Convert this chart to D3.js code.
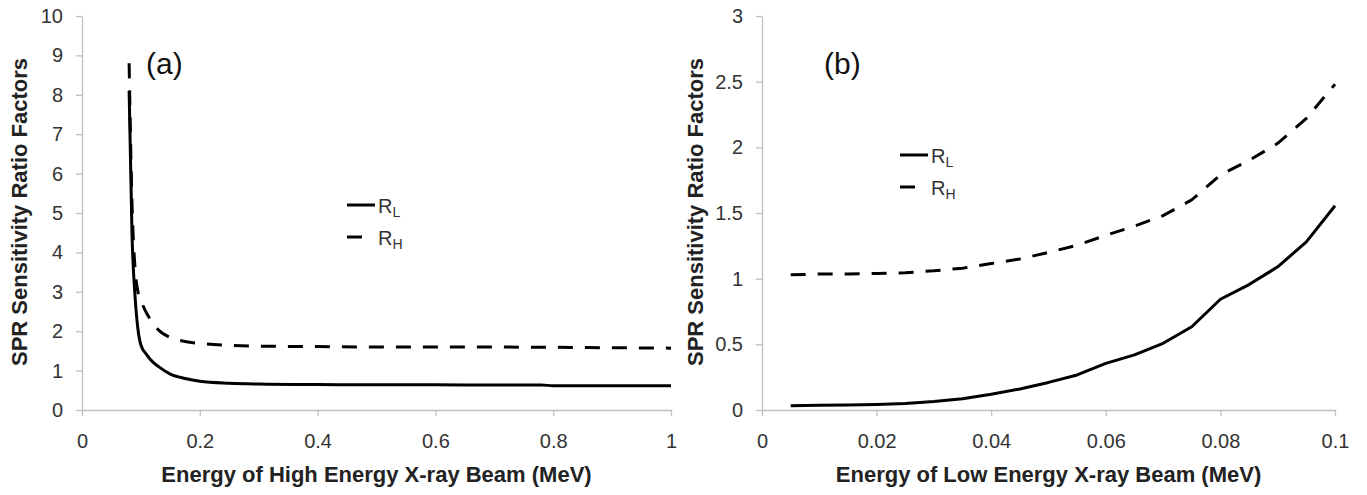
<!DOCTYPE html>
<html>
<head>
<meta charset="utf-8">
<script src="https://cdn.jsdelivr.net/npm/d3@7/dist/d3.min.js"></script>
<style>
  body { margin: 0; background: #fff; }
  svg { display: block; font-family: Arial, "Liberation Sans", sans-serif; }
  .axis path, .axis line { stroke: #bfbfbf; stroke-width: 1.3px; }
  .axis text { font-size: 20px; fill: #333; }
  .title { font-size: 22px; font-weight: bold; fill: #222; }
</style>
</head>
<body>
<div id="chart"></div>
<script>
// panel (a): high energy beam
const energyHigh = [0.08, 0.085, 0.09, 0.095, 0.1, 0.11, 0.12, 0.13, 0.15, 0.175, 0.2, 0.25, 0.3, 0.4, 0.5, 0.6, 0.7, 0.78, 0.8, 0.9, 1.0];
const rLowA  = [8.1, 4.4, 2.9, 2.05, 1.65, 1.4, 1.22, 1.1, 0.91, 0.8, 0.73, 0.68, 0.66, 0.645, 0.64, 0.64, 0.635, 0.635, 0.615, 0.615, 0.615];
const rHighA = [8.8, 5.2, 3.6, 3.0, 2.78, 2.45, 2.22, 2.03, 1.84, 1.74, 1.69, 1.64, 1.62, 1.61, 1.6, 1.6, 1.6, 1.59, 1.59, 1.58, 1.57];
const xTicksA = [0, 0.2, 0.4, 0.6, 0.8, 1];
const yTicksA = [0, 1, 2, 3, 4, 5, 6, 7, 8, 9, 10];

// panel (b): low energy beam
const energyLow = [0.005, 0.01, 0.015, 0.02, 0.025, 0.03, 0.035, 0.04, 0.045, 0.05, 0.055, 0.06, 0.065, 0.07, 0.075, 0.08, 0.085, 0.09, 0.095, 0.1];
const rLowB  = [0.033, 0.037, 0.038, 0.042, 0.05, 0.065, 0.085, 0.12, 0.16, 0.21, 0.267, 0.355, 0.42, 0.508, 0.634, 0.843, 0.955, 1.09, 1.28, 1.555];
const rHighB = [1.03, 1.035, 1.035, 1.04, 1.045, 1.06, 1.08, 1.115, 1.15, 1.2, 1.255, 1.33, 1.4, 1.48, 1.6, 1.79, 1.9, 2.03, 2.22, 2.48];
const xTicksB = [0, 0.02, 0.04, 0.06, 0.08, 0.1];
const yTicksB = [0, 0.5, 1, 1.5, 2, 2.5, 3];

const width = 1367, height = 495;
const svg = d3.select('#chart').append('svg')
    .attr('width', width)
    .attr('height', height);

function drawPanel(cfg) {
    const x = d3.scaleLinear().domain(cfg.xDomain).range([cfg.left, cfg.right]);
    const y = d3.scaleLinear().domain(cfg.yDomain).range([cfg.bottom, cfg.top]);
    const g = svg.append('g');

    g.append('g')
        .attr('class', 'axis')
        .attr('transform', `translate(0,${cfg.bottom})`)
        .call(d3.axisBottom(x).tickValues(cfg.xTicks).tickSize(6).tickSizeOuter(0).tickPadding(18).tickFormat(d => String(d)));
    g.append('g')
        .attr('class', 'axis')
        .attr('transform', `translate(${cfg.left},0)`)
        .call(d3.axisLeft(y).tickValues(cfg.yTicks).tickSize(6).tickSizeOuter(0).tickPadding(13).tickFormat(d => String(d)));
    g.selectAll('.axis .domain').attr('d', function () { return d3.select(this).attr('d').replace(/V6|H-6/g, ''); });

    const line = d3.line()
        .x((d, i) => x(cfg.xs[i]))
        .y(d => y(d))
        .curve(cfg.curve);

    g.append('path')
        .datum(cfg.low)
        .attr('d', line)
        .attr('fill', 'none')
        .attr('stroke', '#000')
        .attr('stroke-width', 3)
        .attr('stroke-linejoin', 'round');
    g.append('path')
        .datum(cfg.high)
        .attr('d', line)
        .attr('fill', 'none')
        .attr('stroke', '#000')
        .attr('stroke-width', 3)
        .attr('stroke-dasharray', '15,12');

    // axis titles
    g.append('text')
        .attr('class', 'title')
        .attr('text-anchor', 'middle')
        .attr('x', (cfg.left + cfg.right) / 2)
        .attr('y', 482)
        .text(cfg.xTitle);
    g.append('text')
        .attr('class', 'title')
        .attr('text-anchor', 'middle')
        .attr('transform', `translate(${cfg.yTitleX},212) rotate(-90)`)
        .text('SPR Sensitivity Ratio Factors');

    // panel letter
    g.append('text')
        .attr('x', cfg.tagX)
        .attr('y', 74)
        .style('font-size', '30px')
        .style('fill', '#111')
        .text(cfg.tag);

    // legend
    const lg = g.append('g').attr('transform', `translate(${cfg.legendX},${cfg.legendY})`);
    lg.append('line').attr('x1', 0).attr('x2', 28).attr('y1', 0).attr('y2', 0)
        .attr('stroke', '#000').attr('stroke-width', 3);
    lg.append('line').attr('x1', 0).attr('x2', 15).attr('y1', 32).attr('y2', 32)
        .attr('stroke', '#000').attr('stroke-width', 3);
    [['L', 8], ['H', 40]].forEach(([sub, yy]) => {
        const t = lg.append('text').attr('x', 31).attr('y', yy)
            .style('font-size', '20px').style('fill', '#333');
        t.append('tspan').text('R');
        t.append('tspan').attr('dy', 4).style('font-size', '14px').text(sub);
    });
}

drawPanel({
    left: 82, right: 671, top: 16, bottom: 410,
    xDomain: [0, 1], yDomain: [0, 10],
    xTicks: xTicksA, yTicks: yTicksA,
    xs: energyHigh, low: rLowA, high: rHighA,
    curve: d3.curveMonotoneX,
    xTitle: 'Energy of High Energy X-ray Beam (MeV)',
    yTitleX: 27, tag: '(a)', tagX: 146,
    legendX: 347, legendY: 205
});

drawPanel({
    left: 762, right: 1335, top: 16, bottom: 410,
    xDomain: [0, 0.1], yDomain: [0, 3],
    xTicks: xTicksB, yTicks: yTicksB,
    xs: energyLow, low: rLowB, high: rHighB,
    curve: d3.curveLinear,
    xTitle: 'Energy of Low Energy X-ray Beam (MeV)',
    yTitleX: 703, tag: '(b)', tagX: 824,
    legendX: 900, legendY: 155
});
</script>
</body>
</html>
